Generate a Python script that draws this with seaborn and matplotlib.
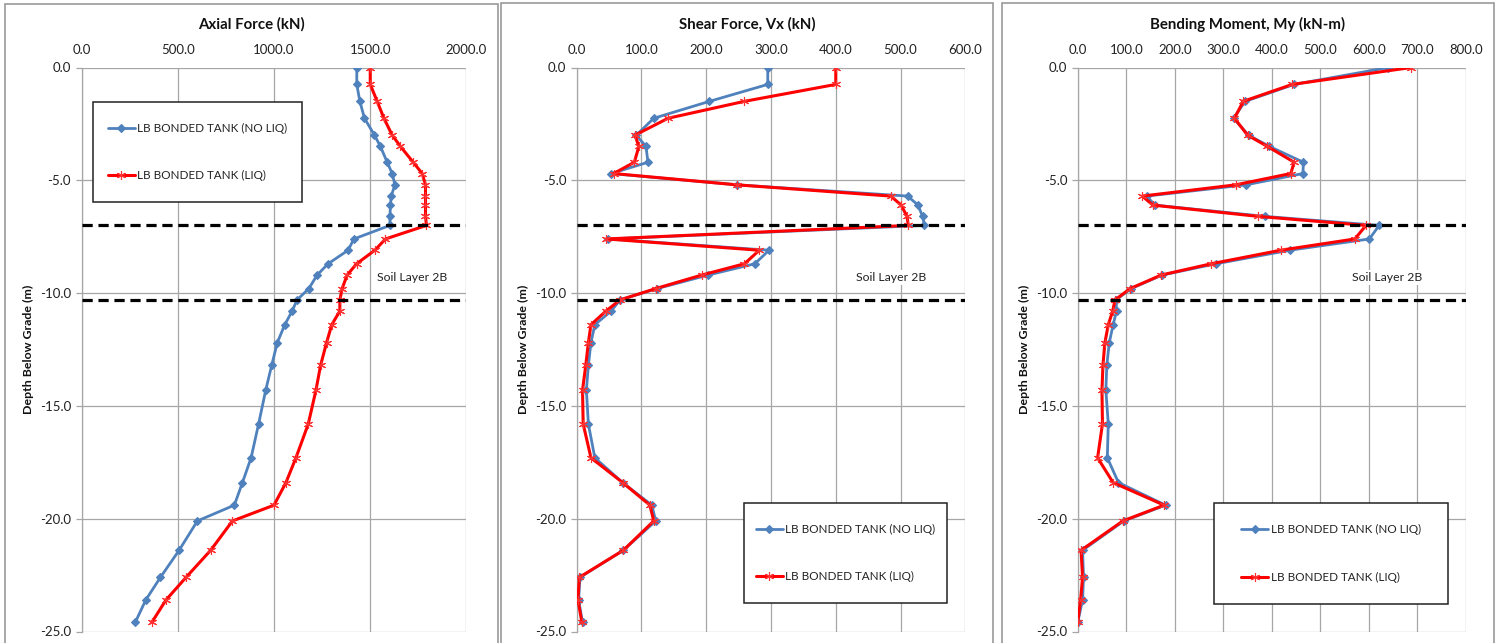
import matplotlib
matplotlib.use("Agg")
import matplotlib.pyplot as plt
import matplotlib.patches as patches
import seaborn as sns
import pandas as pd

sns.set_theme(style="white")
plt.rcParams["font.family"] = ["Lato", "DejaVu Sans"]

depth = [0.0, -0.75, -1.5, -2.25, -3.0, -3.5, -4.2, -4.7, -5.2, -5.7, -6.1,
         -6.6, -7.0, -7.6, -8.1, -8.7, -9.2, -9.8, -10.3, -10.8, -11.4, -12.2,
         -13.2, -14.3, -15.8, -17.3, -18.4, -19.4, -20.1, -21.4, -22.6, -23.6,
         -24.6]

axial_noliq = [1430, 1430, 1446, 1470, 1522, 1553, 1588, 1614, 1628, 1609, 1605,
               1602, 1602, 1415, 1385, 1281, 1224, 1181, 1120, 1094, 1056, 1017,
               988, 957, 920, 881, 836, 794, 602, 507, 410, 334, 279]
axial_liq = [1500, 1500, 1536, 1571, 1614, 1657, 1723, 1770, 1787, 1787, 1787,
             1787, 1792, 1579, 1524, 1429, 1380, 1354, 1342, 1342, 1300, 1273,
             1242, 1218, 1178, 1114, 1062, 1000, 784, 671, 543, 439, 365]

shear_noliq = [295, 295, 205, 119, 92, 107, 110, 53, 247, 511, 527,
               534, 537, 49, 297, 275, 203, 124, 67, 53, 28, 22,
               18, 15, 18, 28, 71, 116, 122, 72, 5, 3, 9]
shear_liq = [400, 400, 259, 141, 90, 96, 89, 57, 247, 485, 501,
             510, 512, 46, 282, 259, 193, 122, 67, 45, 22, 18,
             14, 9, 10, 22, 71, 113, 119, 72, 4, 2, 8]

moment_noliq = [640, 446, 345, 321, 352, 395, 465, 464, 347, 142, 159,
                386, 621, 601, 437, 285, 174, 110, 79, 80, 73, 65,
                60, 58, 63, 61, 84, 181, 95, 10, 12, 10, 0]
moment_liq = [687, 442, 341, 323, 350, 391, 446, 439, 326, 133, 155,
              372, 594, 571, 418, 275, 172, 108, 77, 72, 63, 56,
              52, 50, 51, 41, 73, 178, 93, 7, 10, 6, 0]

series_names = ["LB BONDED TANK (NO LIQ)", "LB BONDED TANK (LIQ)"]
titles = ["Axial Force (kN)", "Shear Force, Vx (kN)", "Bending Moment, My (kN-m)"]
x_max = [2000, 600, 800]
x_step = [500, 100, 100]
layer_lines = [-7.0, -10.3]
layer_label = "Soil Layer 2B"
layer_label_x = [1720, 485, 637]
layer_label_y = -9.3

panels = [(axial_noliq, axial_liq), (shear_noliq, shear_liq),
          (moment_noliq, moment_liq)]

W, H = 1501, 643
fig = plt.figure(figsize=(W / 100, H / 100), dpi=100)

# panel frames (px) and plot areas (px)
frames = [(5, 4, 498), (501, 3, 993), (1002, 3, 1494)]
areas = [(81.5, 466.5), (576.7, 965.3), (1077.7, 1466.0)]
legend_boxes = [(93, 102, 302, 202), (744, 503, 947, 603), (1214, 503, 1448, 604)]
top_px, bot_px = 67.5, 631.5

grid_col = "#A6A6A6"
blue = "#4F81BD"
red = "#FF0000"
txt = "#222222"
fs_tick = 9.5

for i, (noliq, liq) in enumerate(panels):
    fx0, fy0, fx1 = frames[i]
    fig.add_artist(patches.Rectangle((fx0 / W, -0.05), (fx1 - fx0) / W,
                                     1.05 - fy0 / H, transform=fig.transFigure,
                                     fill=False, edgecolor="#9A9A9A", lw=1.2))
    ax0, ax1 = areas[i]
    ax = fig.add_axes([ax0 / W, 1 - bot_px / H, (ax1 - ax0) / W,
                       (bot_px - top_px) / H])

    df = pd.DataFrame({
        "depth": depth * 2,
        "value": list(noliq) + list(liq),
        "series": [series_names[0]] * len(depth) + [series_names[1]] * len(depth),
    })
    sns.lineplot(data=df, x="value", y="depth", hue="series", style="series",
                 palette=[blue, red], markers=["D", "D"], dashes=False,
                 sort=False, estimator=None, legend=False, ax=ax)
    lb, lr = ax.lines[0], ax.lines[1]
    lb.set_linewidth(2.0)
    lb.set_markersize(4.2)
    lb.set_markerfacecolor(blue)
    lb.set_markeredgecolor(blue)
    lb.set_markeredgewidth(0.8)
    lr.set_marker((6, 2, 0))
    lr.set_linewidth(2.2)
    lr.set_markersize(6.5)
    lr.set_markeredgecolor("#FF3030")
    lr.set_markeredgewidth(0.8)
    lb.set_zorder(3)
    lr.set_zorder(4)

    for yl in layer_lines:
        ax.axhline(yl, color="black", lw=2.3, ls=(0, (3.2, 1.8)), zorder=5)

    ax.text(layer_label_x[i], layer_label_y, layer_label, ha="center",
            va="center", fontsize=8.8, color=txt, zorder=2,
            bbox=dict(facecolor="white", edgecolor="none", pad=1.5))

    ax.set_xlim(0, x_max[i])
    ax.set_ylim(-25, 0)
    ax.set_xticks(range(0, x_max[i] + 1, x_step[i]))
    ax.set_yticks([0, -5, -10, -15, -20, -25])
    ax.xaxis.set_major_formatter(matplotlib.ticker.FormatStrFormatter("%.1f"))
    ax.yaxis.set_major_formatter(matplotlib.ticker.FormatStrFormatter("%.1f"))
    ax.xaxis.tick_top()
    ax.tick_params(axis="x", length=0, pad=8, labelsize=fs_tick, colors=txt)
    ax.tick_params(axis="y", length=4.5, width=0.9, color=grid_col, pad=3,
                   labelsize=fs_tick, labelcolor=txt, left=True)
    ax.grid(True, color=grid_col, lw=0.9)
    ax.set_axisbelow(True)
    for side in ["top", "right", "bottom"]:
        ax.spines[side].set_visible(False)
    ax.spines["left"].set_color(grid_col)
    ax.spines["left"].set_linewidth(0.9)
    ax.set_xlabel("")
    ax.set_ylabel("Depth Below Grade (m)", fontsize=8.9, fontweight="bold",
                  labelpad=4, color="#111111")

    fig.text((fx0 + fx1) / 2 / W, 1 - 24 / H, titles[i], ha="center",
             va="center", fontsize=10.8, fontweight="bold", color="#111111")

    bx0, by0, bx1, by1 = legend_boxes[i]
    ax.add_patch(patches.Rectangle((bx0 / W, 1 - by1 / H), (bx1 - bx0) / W,
                                   (by1 - by0) / H, transform=fig.transFigure,
                                   facecolor="white", edgecolor="#222222",
                                   lw=1.1, zorder=6, clip_on=False))
    leg = ax.legend(handles=[lb, lr], labels=series_names, loc="center",
                    bbox_to_anchor=((bx0 + bx1) / 2 / W, 1 - (by0 + by1) / 2 / H),
                    bbox_transform=fig.transFigure, frameon=False,
                    fontsize=8.4, handlelength=2.3, handletextpad=0.2,
                    labelspacing=3.1, borderpad=0.2)
    leg.set_zorder(7)
    for t in leg.get_texts():
        t.set_color(txt)

fig.savefig("out.png", dpi=100, facecolor="white")
